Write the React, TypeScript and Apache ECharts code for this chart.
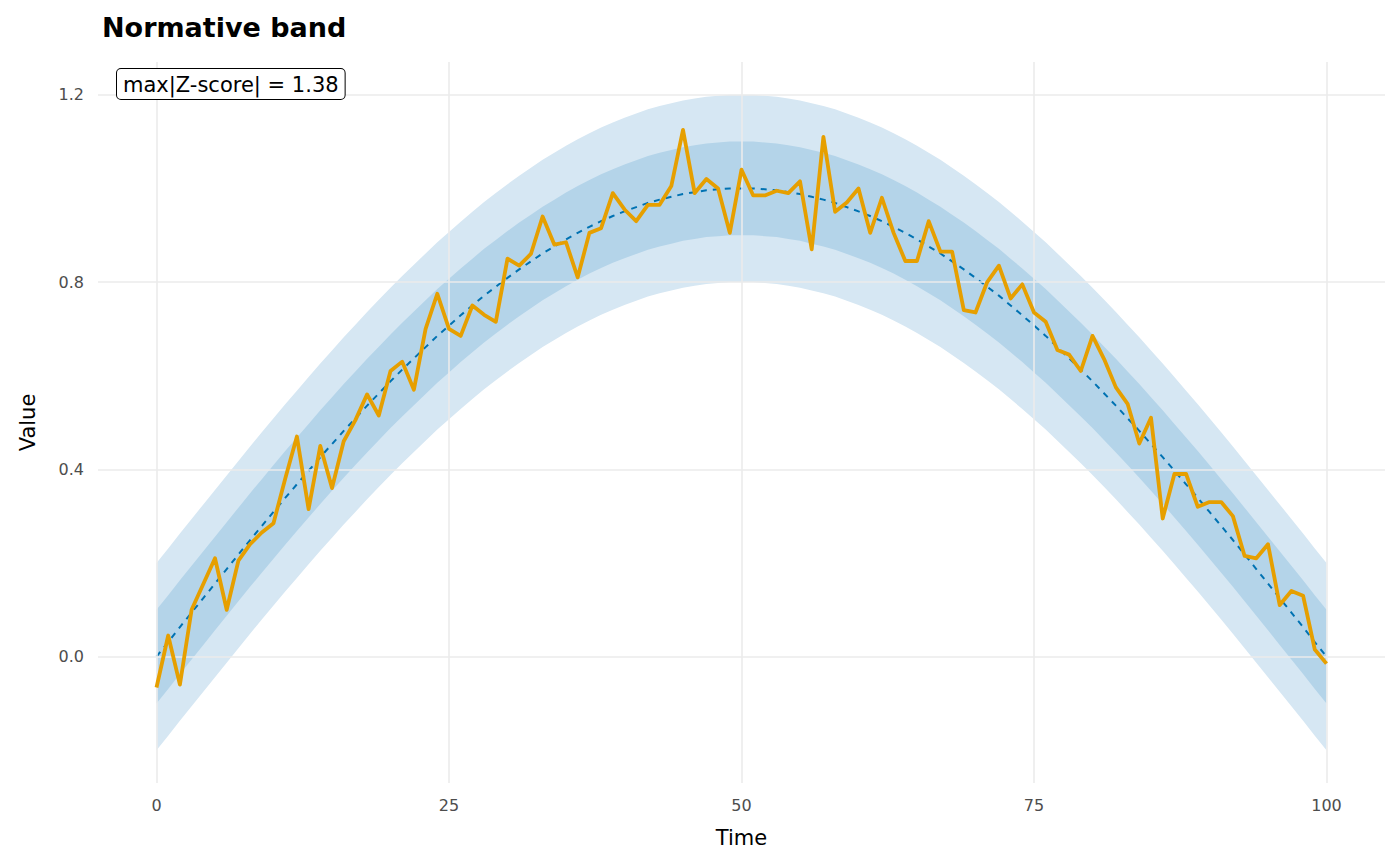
import React, { useEffect, useRef } from "react";
import * as echarts from "echarts";

const timeValues: number[] = Array.from({ length: 101 }, (_, i) => i);
const meanHalf = [0, 0.031, 0.063, 0.094, 0.125, 0.156, 0.187, 0.218, 0.249, 0.279, 0.309, 0.339, 0.368, 0.397, 0.426, 0.454, 0.482, 0.509, 0.536, 0.562, 0.588, 0.613, 0.637, 0.661, 0.685, 0.707, 0.729, 0.75, 0.771, 0.79, 0.809, 0.827, 0.844, 0.861, 0.876, 0.891, 0.905, 0.918, 0.93, 0.941, 0.951, 0.96, 0.969, 0.976, 0.982, 0.988, 0.992, 0.996, 0.998, 1.0, 1.0];
const meanValues: number[] = [...meanHalf, ...meanHalf.slice(0, 50).reverse()];
const observedValues: number[] = [
  -0.066, 0.045, -0.06, 0.1, 0.155, 0.21, 0.1, 0.205, 0.24, 0.265,
  0.285, 0.38, 0.47, 0.315, 0.45, 0.36, 0.46, 0.505, 0.56, 0.515,
  0.61, 0.63, 0.57, 0.7, 0.775, 0.7, 0.685, 0.75, 0.73, 0.715,
  0.85, 0.835, 0.86, 0.94, 0.88, 0.885, 0.81, 0.905, 0.915, 0.99,
  0.955, 0.93, 0.965, 0.965, 1.005, 1.125, 0.99, 1.02, 1.0, 0.905,
  1.04, 0.985, 0.985, 0.995, 0.99, 1.015, 0.87, 1.11, 0.95, 0.97,
  1.0, 0.905, 0.98, 0.905, 0.845, 0.845, 0.93, 0.865, 0.865, 0.74,
  0.735, 0.8, 0.835, 0.765, 0.795, 0.735, 0.715, 0.655, 0.645, 0.61,
  0.685, 0.635, 0.575, 0.54, 0.455, 0.51, 0.295, 0.39, 0.39, 0.32,
  0.33, 0.33, 0.3, 0.215, 0.21, 0.24, 0.11, 0.14, 0.13, 0.015, -0.015,
];
const bandWidths = [0.2, 0.1];
const bandColors = ["#d6e7f3", "#b4d4e9"];
const xTicks = [0, 25, 50, 75, 100];
const yTicks = [0, 0.4, 0.8, 1.2];
const zLabel = "max|Z-score| = 1.38";

const FONT = "DejaVu Sans";

export default function App() {
  const ref = useRef<HTMLDivElement>(null);
  useEffect(() => {
    const chart = echarts.init(ref.current!, null, { renderer: "svg" });
    const pair = (arr: number[]) => arr.map((v, i) => [timeValues[i], v]);
    const grid = { color: "#ebebeb", width: 1.6 };
    chart.setOption({
      animation: false,
      title: {
        text: "Normative band",
        left: 97,
        top: 9,
        textStyle: { fontFamily: FONT, fontSize: 27, fontWeight: "bold", color: "#000" },
      },
      grid: { left: 98, right: 15, top: 62, bottom: 83 },
      xAxis: {
        type: "value",
        min: -5,
        max: 105,
        name: "Time",
        nameLocation: "middle",
        nameGap: 44,
        nameTextStyle: { fontFamily: FONT, fontSize: 21, color: "#000" },
        axisLine: { show: false },
        axisTick: { show: false },
        splitLine: { show: false },
        axisLabel: { customValues: xTicks, fontFamily: FONT, fontSize: 16, color: "#4d4d4d", margin: 14 },
      },
      yAxis: {
        type: "value",
        min: -0.27,
        max: 1.27,
        name: "Value",
        nameLocation: "middle",
        nameGap: 60,
        nameTextStyle: { fontFamily: FONT, fontSize: 21, color: "#000" },
        axisLine: { show: false },
        axisTick: { show: false },
        splitLine: { show: false },
        axisLabel: { customValues: yTicks, fontFamily: FONT, fontSize: 16, color: "#4d4d4d", margin: 14, formatter: (v: number) => v.toFixed(1) },
      },
      series: [
        {
          type: "line",
          data: [],
          markLine: {
            silent: true,
            symbol: "none",
            label: { show: false },
            lineStyle: { ...grid, type: "solid" },
            data: [...xTicks.map((x) => ({ xAxis: x })), ...yTicks.map((y) => ({ yAxis: y }))],
          },
        },
        {
          type: "custom",
          data: bandWidths.map((w, i) => [i]),
          z: 3,
          renderItem: (params: any, api: any) => {
            const idx = params.dataIndex;
            const w = bandWidths[idx];
            const upper = meanValues.map((m, i) => api.coord([timeValues[i], m + w]));
            const lower = meanValues.map((m, i) => api.coord([timeValues[i], m - w])).reverse();
            return {
              type: "polygon",
              shape: { points: [...upper, ...lower] },
              style: { fill: bandColors[idx] },
            };
          },
        },
        {
          type: "line", symbol: "none", data: pair(meanValues), z: 4,
          lineStyle: { color: "#0072B2", width: 2, type: [6, 6] },
        },
        {
          type: "line", symbol: "none", data: pair(observedValues), z: 5,
          lineStyle: { color: "#E69F00", width: 3.8, join: "round" },
        },
      ],
      graphic: [
        {
          type: "text",
          left: 116,
          top: 68,
          z: 100,
          style: {
            text: zLabel,
            fontFamily: FONT,
            fontSize: 21,
            fill: "#000",
            backgroundColor: "#fff",
            borderColor: "#000",
            borderWidth: 1,
            borderRadius: 4,
            padding: [5, 6, 4, 6],
          },
        },
      ],
    });
    return () => chart.dispose();
  }, []);
  return <div ref={ref} style={{ position: "absolute", left: 0, top: 0, width: 1400, height: 866 }} />;
}
